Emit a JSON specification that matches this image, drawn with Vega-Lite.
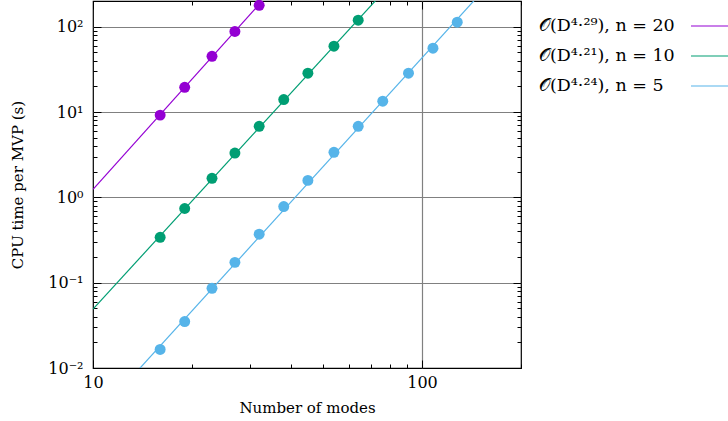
{
  "$schema": "https://vega.github.io/schema/vega-lite/v6.json",
  "autosize": "none",
  "width": 428,
  "height": 367,
  "padding": {"left": 93, "top": 1, "right": 207, "bottom": 53},
  "background": "white",
  "config": {
    "view": {"stroke": "black", "strokeWidth": 1.2},
    "font": "DejaVu Serif",
    "axis": {
      "labelFont": "DejaVu Serif",
      "titleFont": "DejaVu Serif",
      "labelFontSize": 16,
      "titleFontSize": 15,
      "titleFontWeight": "normal",
      "labelColor": "black",
      "titleColor": "black",
      "labelFlush": false,
      "domain": false,
      "tickColor": "black",
      "gridColor": "#808080",
      "gridWidth": 1.2
    },
    "legend": {
      "labelFont": "DejaVu Serif",
      "labelFontSize": 17.5,
      "labelColor": "black",
      "labelLimit": 400
    }
  },
  "datasets": {
    "pts": [
      {"series": "𝒪(D⁴·²⁹), n = 20", "x": 16, "y": 9.2},
      {"series": "𝒪(D⁴·²⁹), n = 20", "x": 19, "y": 19.5},
      {"series": "𝒪(D⁴·²⁹), n = 20", "x": 23, "y": 45},
      {"series": "𝒪(D⁴·²⁹), n = 20", "x": 27, "y": 88},
      {"series": "𝒪(D⁴·²⁹), n = 20", "x": 32, "y": 178},
      {"series": "𝒪(D⁴·²¹), n = 10", "x": 16, "y": 0.34},
      {"series": "𝒪(D⁴·²¹), n = 10", "x": 19, "y": 0.74},
      {"series": "𝒪(D⁴·²¹), n = 10", "x": 23, "y": 1.67},
      {"series": "𝒪(D⁴·²¹), n = 10", "x": 27, "y": 3.3},
      {"series": "𝒪(D⁴·²¹), n = 10", "x": 32, "y": 6.8},
      {"series": "𝒪(D⁴·²¹), n = 10", "x": 38, "y": 14},
      {"series": "𝒪(D⁴·²¹), n = 10", "x": 45, "y": 28.5},
      {"series": "𝒪(D⁴·²¹), n = 10", "x": 54, "y": 59},
      {"series": "𝒪(D⁴·²¹), n = 10", "x": 64, "y": 119},
      {"series": "𝒪(D⁴·²⁴), n = 5", "x": 16, "y": 0.0165},
      {"series": "𝒪(D⁴·²⁴), n = 5", "x": 19, "y": 0.035},
      {"series": "𝒪(D⁴·²⁴), n = 5", "x": 23, "y": 0.086},
      {"series": "𝒪(D⁴·²⁴), n = 5", "x": 27, "y": 0.173},
      {"series": "𝒪(D⁴·²⁴), n = 5", "x": 32, "y": 0.37},
      {"series": "𝒪(D⁴·²⁴), n = 5", "x": 38, "y": 0.78},
      {"series": "𝒪(D⁴·²⁴), n = 5", "x": 45, "y": 1.58},
      {"series": "𝒪(D⁴·²⁴), n = 5", "x": 54, "y": 3.37},
      {"series": "𝒪(D⁴·²⁴), n = 5", "x": 64, "y": 6.8},
      {"series": "𝒪(D⁴·²⁴), n = 5", "x": 76, "y": 13.4},
      {"series": "𝒪(D⁴·²⁴), n = 5", "x": 91, "y": 28.5},
      {"series": "𝒪(D⁴·²⁴), n = 5", "x": 108, "y": 56},
      {"series": "𝒪(D⁴·²⁴), n = 5", "x": 128, "y": 113}
    ],
    "fit": [
      {"series": "𝒪(D⁴·²⁹), n = 20", "x": 10, "y": 1.24},
      {"series": "𝒪(D⁴·²⁹), n = 20", "x": 40, "y": 475},
      {"series": "𝒪(D⁴·²¹), n = 10", "x": 10, "y": 0.049},
      {"series": "𝒪(D⁴·²¹), n = 10", "x": 80, "y": 310},
      {"series": "𝒪(D⁴·²⁴), n = 5", "x": 12, "y": 0.00536},
      {"series": "𝒪(D⁴·²⁴), n = 5", "x": 160, "y": 316}
    ]
  },
  "layer": [
    {
      "data": {"name": "fit"},
      "mark": {"type": "line", "clip": true, "strokeWidth": 1.2},
      "encoding": {
        "x": {
          "field": "x", "type": "quantitative",
          "scale": {"type": "log", "domain": [10, 200], "nice": false},
          "axis": {
            "orient": "bottom",
            "title": "Number of modes",
            "titlePadding": 10,
            "values": [10, 20, 30, 40, 50, 60, 70, 80, 90, 100, 200],
            "labelExpr": "datum.value == 10 ? '10' : datum.value == 100 ? '100' : ''",
            "labelPadding": 14,
            "tickSize": {"condition": {"test": "datum.value == 10 || datum.value == 100", "value": -8}, "value": -4},
            "grid": true,
            "gridOpacity": {"condition": {"test": "datum.value == 100", "value": 1}, "value": 0}
          }
        },
        "y": {
          "field": "y", "type": "quantitative",
          "scale": {"type": "log", "domain": [0.01, 200], "nice": false},
          "axis": {
            "orient": "left",
            "title": "CPU time per MVP (s)",
            "titlePadding": 22,
            "values": [0.01, 0.02, 0.03, 0.04, 0.05, 0.06, 0.07, 0.08, 0.09, 0.1, 0.2, 0.3, 0.4, 0.5, 0.6, 0.7, 0.8, 0.9, 1, 2, 3, 4, 5, 6, 7, 8, 9, 10, 20, 30, 40, 50, 60, 70, 80, 90, 100, 200],
            "labelExpr": "datum.value == 100 ? '10²' : datum.value == 10 ? '10¹' : datum.value == 1 ? '10⁰' : datum.value == 0.1 ? '10⁻¹' : datum.value == 0.01 ? '10⁻²' : ''",
            "labelPadding": 18,
            "tickSize": {"condition": {"test": "datum.value == 100 || datum.value == 10 || datum.value == 1 || datum.value == 0.1 || datum.value == 0.01", "value": -8}, "value": -4},
            "grid": true,
            "gridOpacity": {"condition": {"test": "datum.value == 100 || datum.value == 10 || datum.value == 1 || datum.value == 0.1", "value": 1}, "value": 0}
          }
        },
        "color": {
          "field": "series", "type": "nominal",
          "scale": {
            "domain": ["𝒪(D⁴·²⁹), n = 20", "𝒪(D⁴·²¹), n = 10", "𝒪(D⁴·²⁴), n = 5"],
            "range": ["#9400d3", "#009e73", "#56b4e9"]
          },
          "legend": {
            "title": null,
            "orient": "none",
            "legendX": 597,
            "legendY": 4,
            "symbolType": "stroke",
            "symbolSize": 1600,
            "symbolStrokeWidth": 1.2,
            "labelAlign": "left",
            "labelOffset": -193,
            "rowPadding": -0.5
          }
        }
      }
    },
    {
      "data": {"name": "pts"},
      "mark": {"type": "circle", "size": 120, "opacity": 1},
      "encoding": {
        "x": {
          "field": "x", "type": "quantitative",
          "axis": {
            "orient": "top",
            "title": null,
            "labels": false,
            "values": [10, 20, 30, 40, 50, 60, 70, 80, 90, 100, 200],
            "tickSize": {"condition": {"test": "datum.value == 10 || datum.value == 100", "value": -8}, "value": -4},
            "grid": false
          }
        },
        "y": {
          "field": "y", "type": "quantitative",
          "axis": {
            "orient": "right",
            "title": null,
            "labels": false,
            "values": [0.01, 0.02, 0.03, 0.04, 0.05, 0.06, 0.07, 0.08, 0.09, 0.1, 0.2, 0.3, 0.4, 0.5, 0.6, 0.7, 0.8, 0.9, 1, 2, 3, 4, 5, 6, 7, 8, 9, 10, 20, 30, 40, 50, 60, 70, 80, 90, 100, 200],
            "tickSize": {"condition": {"test": "datum.value == 100 || datum.value == 10 || datum.value == 1 || datum.value == 0.1 || datum.value == 0.01", "value": -8}, "value": -4},
            "grid": false
          }
        },
        "color": {"field": "series", "type": "nominal"}
      }
    }
  ],
  "resolve": {"axis": {"x": "independent", "y": "independent"}}
}
